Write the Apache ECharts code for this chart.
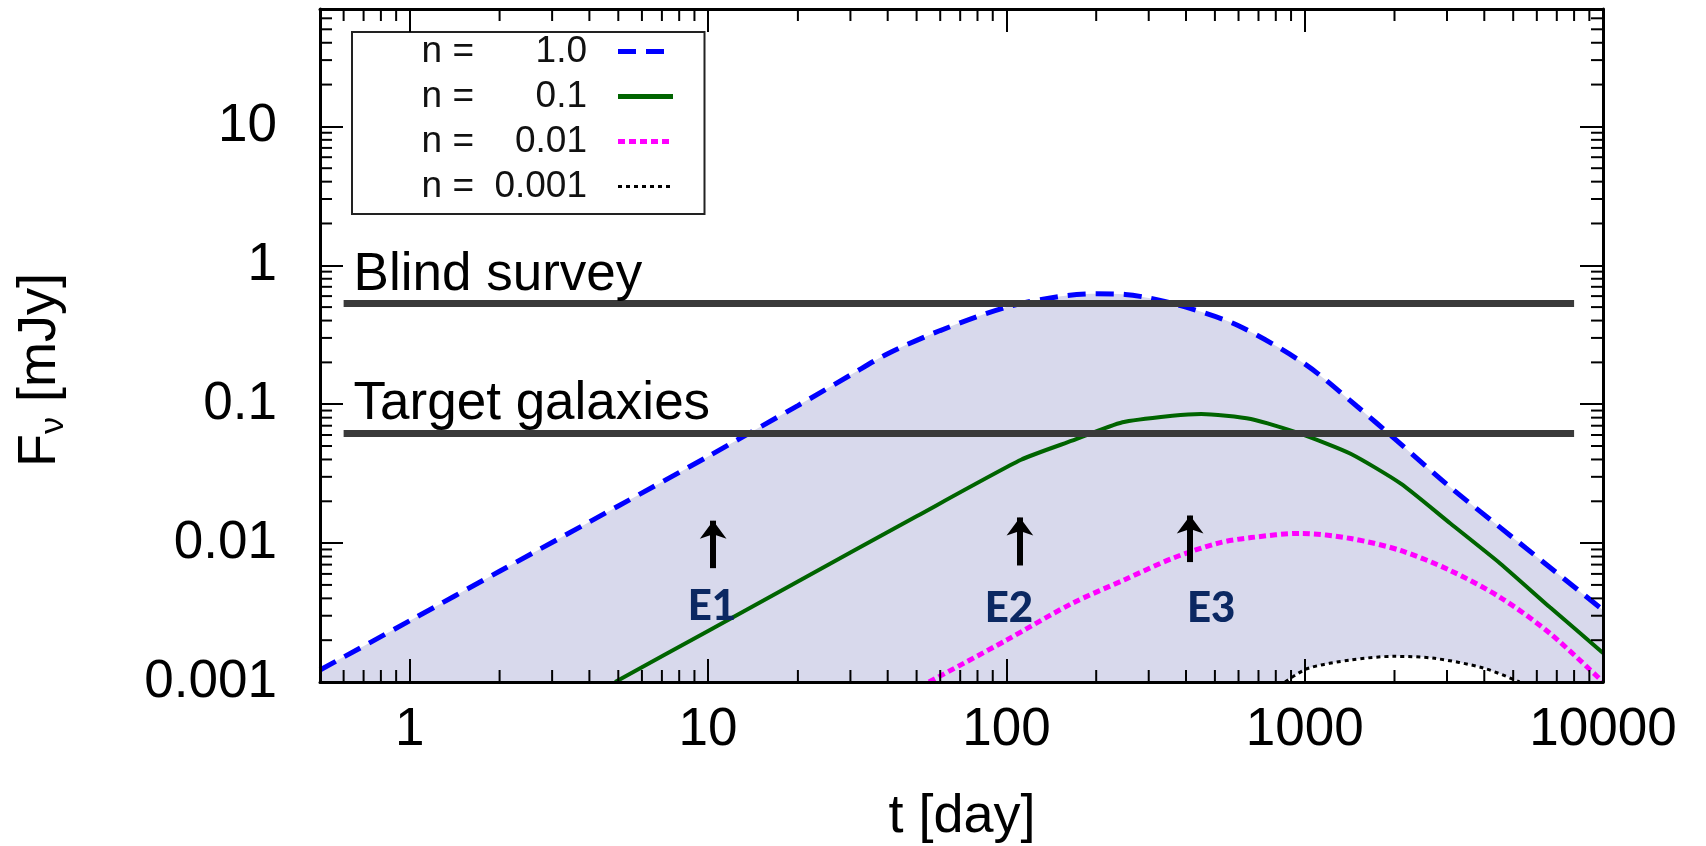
<!DOCTYPE html>
<html>
<head>
<meta charset="utf-8">
<script src="https://cdn.jsdelivr.net/npm/echarts@6/dist/echarts.min.js"></script>
<style>
html,body{margin:0;padding:0;background:#fff;}
#chart{width:1706px;height:846px;}
</style>
</head>
<body>
<div id="chart"></div>
<script>
// ---------------- data ----------------
const tBlue  = [0.5, 1, 2, 5, 10, 20, 30, 40, 60, 100, 150, 200, 250, 300, 400, 600, 1000, 1500, 2000, 3000, 5000, 7000, 10000];
const fBlue  = [0.00122, 0.00276, 0.00627, 0.0185, 0.0421, 0.0977, 0.162, 0.231, 0.339, 0.50, 0.596, 0.624, 0.617, 0.582, 0.50, 0.367, 0.195, 0.0962, 0.0565, 0.0264, 0.0109, 0.0061, 0.0033];

const tGreen = [4.88, 10, 20, 50, 112, 166, 245, 360, 450, 660, 970, 1425, 2100, 3080, 4520, 6640, 10000];
const fGreen = [0.001, 0.00233, 0.00529, 0.0156, 0.0398, 0.0546, 0.0741, 0.0826, 0.0851, 0.0783, 0.0612, 0.044, 0.0268, 0.01384, 0.00714, 0.00345, 0.00162];

const tMagenta = [55, 100, 166, 250, 363, 513, 661, 970, 1426, 2094, 3076, 4519, 6637, 10000];
const fMagenta = [0.001, 0.002, 0.00368, 0.00547, 0.00782, 0.0100, 0.01096, 0.01175, 0.01079, 0.00885, 0.00635, 0.00407, 0.00224, 0.001];

const tBlack = [860, 1023, 1426, 1995, 2723, 3981, 5250];
const fBlack = [0.001, 0.00125, 0.00144, 0.00153, 0.00148, 0.00126, 0.001];

const seriesNames = ['n = 1.0', 'n = 0.1', 'n = 0.01', 'n = 0.001'];
const nLabels = ['1.0', '0.1', '0.01', '0.001'];

const thresholdNames = ['Blind survey', 'Target galaxies'];
const thresholdY = [0.53, 0.062];
const thresholdX = [0.6, 8000];

const eventNames = ['E1', 'E2', 'E3'];
const eventX = [10.4, 111, 413];
const arrowFrom = [0.0066, 0.0069, 0.0073];
const arrowTo = [0.0145, 0.0153, 0.0158];
const eventLabelX = [10.3, 102, 486];
const eventLabelY = [0.0035, 0.0034, 0.0034];

const xTickValues = [1, 10, 100, 1000, 10000];
const xTickLabels = ['1', '10', '100', '1000', '10000'];
const yTickValues = [0.001, 0.01, 0.1, 1, 10];
const yTickLabels = ['0.001', '0.01', '0.1', '1', '10'];

const X_MIN = 0.5, X_MAX = 10000, Y_MIN = 0.001, Y_MAX = 70;

// ---------------- helpers ----------------
const pairs = (xs, ys) => xs.map((x, i) => [x, ys[i]]);
function minorTicks(lo, hi, kFrom, kTo) {
  const out = [];
  for (let k = kFrom; k <= kTo; k++) {
    for (let m = 2; m <= 9; m++) {
      const v = +(m * Math.pow(10, k)).toPrecision(4);
      if (v > lo * 1.0001 && v < hi * 0.9999) out.push(v);
    }
  }
  return out;
}
const xMinor = minorTicks(X_MIN, X_MAX, -1, 3);
const yMinor = minorTicks(Y_MIN, Y_MAX, -3, 1);
function labelFor(vals, labels) {
  return function (v) {
    const i = vals.findIndex(t => Math.abs(Math.log10(v / t)) < 1e-6);
    return i < 0 ? '' : labels[i];
  };
}

const FONT = 'Liberation Sans';
const chart = echarts.init(document.getElementById('chart'));

const axisCommon = {
  type: 'log', logBase: 10, z: 8,
  splitLine: { show: false },
  axisLine: { show: true, onZero: false, lineStyle: { color: '#000', width: 3 } },
  axisTick: { show: true, inside: true, length: 23, lineStyle: { color: '#000', width: 2 } }
};

const legendLineWidths = [5, 5, 5, 3];

const option = {
  animation: false,
  backgroundColor: '#fff',
  grid: { left: 320, right: 103, top: 9, bottom: 164, containLabel: false },
  xAxis: [
    Object.assign({}, axisCommon, {
      position: 'bottom', min: X_MIN, max: X_MAX,
      axisLabel: { show: true, showMinLabel: false, fontFamily: FONT, fontSize: 53, color: '#000', margin: 22,
        formatter: labelFor(xTickValues, xTickLabels) }
    }),
    Object.assign({}, axisCommon, {
      position: 'top', min: X_MIN, max: X_MAX, axisLabel: { show: false }
    })
  ],
  yAxis: [
    Object.assign({}, axisCommon, {
      position: 'left', min: Y_MIN, max: Y_MAX,
      axisLabel: { show: true, showMaxLabel: false, fontFamily: FONT, fontSize: 53, color: '#000', margin: 43,
        padding: [0, 0, 12, 0],
        formatter: labelFor(yTickValues, yTickLabels) }
    }),
    Object.assign({}, axisCommon, {
      position: 'right', min: Y_MIN, max: Y_MAX, axisLabel: { show: false }
    })
  ],
  legend: {
    data: seriesNames.map((n, i) => ({ name: n, lineStyle: { width: legendLineWidths[i] } })),
    orient: 'vertical', left: 352, top: 32, align: 'right',
    itemWidth: 55, itemHeight: 14, itemGap: 8,
    padding: [1, 29, 9, 68],
    borderColor: '#222', borderWidth: 2, backgroundColor: '#fff',
    selectedMode: false,
    itemStyle: { opacity: 0, borderWidth: 0 },
    textStyle: {
      fontFamily: FONT, fontSize: 37, color: '#111', lineHeight: 37,
      rich: {
        a: { width: 54, fontFamily: FONT, fontSize: 37, lineHeight: 37, color: '#111' },
        b: { width: 113, align: 'right', fontFamily: FONT, fontSize: 37, lineHeight: 37, color: '#111' },
        c: { width: 26, fontSize: 37, lineHeight: 37 }
      }
    },
    formatter: function (name) {
      const i = seriesNames.indexOf(name);
      return '{a|n =}{b|' + nLabels[i] + '}{c| }';
    }
  },
  graphic: [
    { type: 'text', x: 962, y: 817, z: 10,
      style: { text: 't [day]', fontFamily: FONT, fontSize: 54, fill: '#000', align: 'center', verticalAlign: 'middle' } },
    { type: 'text', x: 40, y: 370, rotation: Math.PI / 2, z: 10,
      style: { text: '{f|F}{s|ν}{f| [mJy]}', align: 'center', verticalAlign: 'middle', fill: '#000',
        rich: {
          f: { fontFamily: FONT, fontSize: 54, lineHeight: 62, fill: '#000' },
          s: { fontFamily: FONT, fontSize: 34, lineHeight: 34, verticalAlign: 'bottom', fill: '#000' }
        } } }
  ],
  series: [
    // lavender band under the n=1.0 curve
    { name: 'fillTop', type: 'line', data: pairs(tBlue, fBlue), symbol: 'none', smooth: 0.3, z: 1,
      lineStyle: { opacity: 0, width: 0 }, areaStyle: { origin: 'start', color: '#d8d9ec', opacity: 1 }, silent: true },
    // white area under the n=0.001 curve
    { name: 'fillBottom', type: 'line', data: pairs(tBlack, fBlack), symbol: 'none', smooth: 0.3, z: 1.5,
      lineStyle: { opacity: 0, width: 0 }, areaStyle: { origin: 'start', color: '#ffffff', opacity: 1 }, silent: true },
    // threshold lines
    { name: 'thresholds', type: 'line', data: [], z: 3, silent: true,
      markLine: {
        silent: true, symbol: ['none', 'none'], animation: false,
        lineStyle: { color: '#3a3a3a', width: 7, type: 'solid' },
        label: { show: true, position: 'insideStartTop', distance: [10, 2], fontFamily: FONT, fontSize: 53, color: '#000',
          formatter: p => p.name },
        emphasis: { disabled: true },
        data: thresholdNames.map((n, i) => [
          { name: n, coord: [thresholdX[0], thresholdY[i]] },
          { coord: [thresholdX[1], thresholdY[i]] }
        ])
      } },
    { name: seriesNames[0], type: 'line', data: pairs(tBlue, fBlue), symbol: 'none', smooth: 0.3, z: 4,
      color: '#0000ff', lineStyle: { color: '#0000ff', width: 5, type: [18, 10] } },
    { name: seriesNames[1], type: 'line', data: pairs(tGreen, fGreen), symbol: 'none', smooth: 0.2, z: 4,
      color: '#006400', lineStyle: { color: '#006400', width: 4, type: 'solid' } },
    { name: seriesNames[2], type: 'line', data: pairs(tMagenta, fMagenta), symbol: 'none', smooth: 0.3, z: 4,
      color: '#ff00ff', lineStyle: { color: '#ff00ff', width: 5, type: [7, 4] } },
    { name: seriesNames[3], type: 'line', data: pairs(tBlack, fBlack), symbol: 'none', smooth: 0.3, z: 4,
      color: '#000000', lineStyle: { color: '#000000', width: 3, type: [4, 4] } },
    // arrows
    { name: 'arrows', type: 'line', data: [], z: 5, silent: true,
      markLine: {
        silent: true, symbol: ['none', 'arrow'], symbolSize: [20, 18], animation: false,
        lineStyle: { color: '#000', width: 6, type: 'solid' },
        label: { show: false }, emphasis: { disabled: true },
        data: eventX.map((x, i) => [{ coord: [x, arrowFrom[i]] }, { coord: [x, arrowTo[i]] }])
      } },
    // event labels
    { name: 'events', type: 'scatter', z: 5, silent: true, symbolSize: 1,
      itemStyle: { color: 'transparent' },
      data: eventNames.map((n, i) => ({ name: n, value: [eventLabelX[i], eventLabelY[i]] })),
      label: { show: true, position: 'inside', formatter: '{b}', fontFamily: 'Lato', fontWeight: 900, fontSize: 42,
        color: '#0b2862', opacity: 1, textBorderWidth: 0, textShadowBlur: 0 } },
    // minor ticks on bottom / top
    { name: 'xMinorTicks', type: 'custom', z: 9, silent: true, clip: false,
      data: xMinor.map(v => [v, Y_MIN]),
      renderItem: function (params, api) {
        const v = api.value(0);
        const b = api.coord([v, Y_MIN]);
        const t = api.coord([v, Y_MAX]);
        return { type: 'group', children: [
          { type: 'line', shape: { x1: b[0], y1: b[1], x2: b[0], y2: b[1] - 12 }, style: { stroke: '#000', lineWidth: 2 } },
          { type: 'line', shape: { x1: t[0], y1: t[1], x2: t[0], y2: t[1] + 12 }, style: { stroke: '#000', lineWidth: 2 } }
        ] };
      } },
    // minor ticks on left / right
    { name: 'yMinorTicks', type: 'custom', z: 9, silent: true, clip: false,
      data: yMinor.map(v => [X_MIN, v]),
      renderItem: function (params, api) {
        const v = api.value(1);
        const l = api.coord([X_MIN, v]);
        const r = api.coord([X_MAX, v]);
        return { type: 'group', children: [
          { type: 'line', shape: { x1: l[0], y1: l[1], x2: l[0] + 12, y2: l[1] }, style: { stroke: '#000', lineWidth: 2 } },
          { type: 'line', shape: { x1: r[0], y1: r[1], x2: r[0] - 12, y2: r[1] }, style: { stroke: '#000', lineWidth: 2 } }
        ] };
      } }
  ]
};
chart.setOption(option);
</script>
</body>
</html>
